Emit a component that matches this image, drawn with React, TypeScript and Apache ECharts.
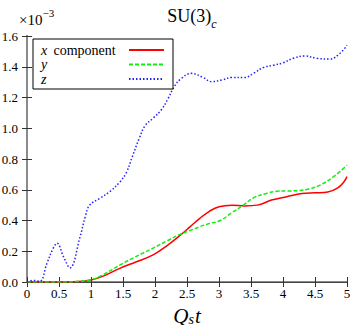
import React, { useEffect, useRef } from "react";
import * as echarts from "echarts";

const FONT = "Liberation Serif";

const tZ = [0, 0.1, 0.2, 0.31, 0.41, 0.47, 0.57, 0.67, 0.83, 0.91, 0.98, 1.14, 1.3, 1.45, 1.55, 1.65, 1.75, 1.85, 1.97, 2.1, 2.2, 2.3, 2.4, 2.57, 2.75, 2.89, 3.05, 3.2, 3.4, 3.55, 3.7, 3.85, 4.0, 4.16, 4.34, 4.53, 4.73, 4.89, 5.0];
const zVals = [0, 0.01, 0.005, 0.12, 0.22, 0.252, 0.165, 0.092, 0.295, 0.425, 0.5, 0.545, 0.59, 0.65, 0.71, 0.82, 0.93, 1.02, 1.065, 1.12, 1.19, 1.27, 1.32, 1.357, 1.33, 1.303, 1.315, 1.33, 1.33, 1.36, 1.396, 1.41, 1.425, 1.455, 1.47, 1.455, 1.45, 1.487, 1.54];

const tX = [0, 0.5, 0.8, 1.0, 1.2, 1.45, 1.7, 1.97, 2.2, 2.4, 2.55, 2.7, 2.85, 3.0, 3.2, 3.4, 3.6, 3.82, 4.06, 4.3, 4.5, 4.7, 4.85, 4.95, 5.0];
const xVals = [0, 0, 0.003, 0.013, 0.04, 0.089, 0.13, 0.176, 0.24, 0.306, 0.36, 0.414, 0.46, 0.49, 0.5, 0.495, 0.5, 0.533, 0.555, 0.575, 0.58, 0.585, 0.61, 0.65, 0.685];

const tY = [0, 0.5, 0.75, 1.0, 1.2, 1.45, 1.7, 1.97, 2.2, 2.39, 2.55, 2.7, 2.85, 3.02, 3.2, 3.38, 3.55, 3.75, 3.9, 4.06, 4.25, 4.4, 4.58, 4.79, 5.0];
const yVals = [0, 0, 0.003, 0.015, 0.05, 0.11, 0.165, 0.22, 0.27, 0.31, 0.335, 0.36, 0.38, 0.4, 0.45, 0.5, 0.55, 0.577, 0.59, 0.592, 0.595, 0.605, 0.63, 0.685, 0.76];

const xMin = 0, xMax = 5, xStep = 0.5;
const yMin = 0, yMax = 1.6, yStep = 0.2;

const pairs = (t: number[], v: number[]) => t.map((tt, i) => [tt, v[i]]);

export default function App() {
  const ref = useRef<HTMLDivElement>(null);
  useEffect(() => {
    if (!ref.current) return;
    const chart = echarts.init(ref.current, null, { renderer: "svg" });
    const tick = { show: true, inside: true, length: 5, lineStyle: { color: "#333", width: 1 } };
    const grayLine = { show: true, lineStyle: { color: "#8a8a8a", width: 2 } };
    const legendText: Record<string, string> = {
      x: "{xi|x}{xn| component}",
      y: "{yi|y}",
      z: "{zi|z}",
    };
    chart.setOption({
      animation: false,
      backgroundColor: "#fff",
      textStyle: { fontFamily: FONT },
      title: {
        text: "{a|SU(3)}{b|c}",
        left: 187,
        top: 0,
        textAlign: "center",
        textStyle: {
          fontWeight: "normal",
          fontFamily: FONT,
          rich: {
            a: { fontFamily: FONT, fontSize: 18, fontWeight: "normal", color: "#000", lineHeight: 22 },
            b: { fontFamily: FONT, fontSize: 12, fontWeight: "normal", fontStyle: "italic", color: "#000", verticalAlign: "bottom", lineHeight: 14, padding: [0, 0, -3, 0] },
          },
        },
      },
      graphic: [
        {
          type: "text",
          left: 19,
          top: 7,
          style: {
            text: "{a|×10}{b|−3}",
            fontFamily: FONT,
            rich: {
              a: { fontFamily: FONT, fontSize: 15, fill: "#000", lineHeight: 20, verticalAlign: "bottom" },
              b: { fontFamily: FONT, fontSize: 11, fill: "#000", lineHeight: 12, verticalAlign: "top" },
            },
          },
        },
      ],
      legend: {
        left: 33,
        top: 39,
        orient: "vertical",
        align: "right",
        selectedMode: false,
        itemWidth: 35,
        itemHeight: 14,
        itemGap: 0.5,
        padding: [4, 8, 3, 8],
        borderColor: "#000",
        borderWidth: 1,
        borderRadius: 0,
        backgroundColor: "#fff",
        itemStyle: { opacity: 0 },
        data: ["x", "y", "z"],
        formatter: (n: string) => legendText[n],
        textStyle: {
          fontFamily: FONT,
          fontSize: 14,
          color: "#000",
          rich: {
            xi: { fontFamily: FONT, fontSize: 14, fontStyle: "italic", width: 9, align: "left" },
            xn: { fontFamily: FONT, fontSize: 14, width: 74, align: "left" },
            yi: { fontFamily: FONT, fontSize: 14, fontStyle: "italic", width: 83, align: "left" },
            zi: { fontFamily: FONT, fontSize: 14, fontStyle: "italic", width: 83, align: "left" },
          },
        },
      },
      grid: { left: 27, right: 7, top: 36, bottom: 43, containLabel: false, outerBoundsMode: "none" },
      xAxis: [
        {
          type: "value",
          min: xMin,
          max: xMax,
          interval: xStep,
          position: "bottom",
          axisLine: grayLine,
          axisTick: tick,
          splitLine: { show: false },
          axisLabel: {
            fontFamily: FONT,
            fontSize: 13,
            color: "#000",
            margin: 5,
            formatter: (v: number) => String(v),
          },
          name: "{q|Q}{s|s}{t|t}",
          nameLocation: "middle",
          nameGap: 17,
          nameTextStyle: {
            lineHeight: 22,
            rich: {
              q: { fontFamily: FONT, fontSize: 21, fontStyle: "italic", color: "#000", lineHeight: 22 },
              s: { fontFamily: FONT, fontSize: 14, fontStyle: "italic", color: "#000", verticalAlign: "bottom", lineHeight: 14, padding: [0, 1, 0, 0] },
              t: { fontFamily: FONT, fontSize: 21, fontStyle: "italic", color: "#000", lineHeight: 22 },
            },
          },
        },
        {
          type: "value",
          min: xMin,
          max: xMax,
          interval: xStep,
          position: "top",
          axisLine: { show: true, lineStyle: { color: "#444", width: 1 } },
          axisTick: tick,
          axisLabel: { show: false },
          splitLine: { show: false },
        },
      ],
      yAxis: [
        {
          type: "value",
          min: yMin,
          max: yMax,
          interval: yStep,
          position: "left",
          axisLine: grayLine,
          axisTick: tick,
          splitLine: { show: false },
          axisLabel: {
            fontFamily: FONT,
            fontSize: 13,
            color: "#000",
            margin: 9,
            formatter: (v: number) => v.toFixed(1),
          },
        },
        {
          type: "value",
          min: yMin,
          max: yMax,
          interval: yStep,
          position: "right",
          axisLine: grayLine,
          axisTick: tick,
          axisLabel: { show: false },
          splitLine: { show: false },
        },
      ],
      series: [
        {
          name: "x",
          type: "line",
          data: pairs(tX, xVals),
          smooth: 0.4,
          symbol: "none",
          lineStyle: { color: "#ff0000", width: 1.5 },
          itemStyle: { color: "#ff0000" },
          emphasis: { disabled: true },
        },
        {
          name: "y",
          type: "line",
          data: pairs(tY, yVals),
          smooth: 0.4,
          symbol: "none",
          lineStyle: { color: "#11ee11", width: 1.5, type: [4, 2] },
          itemStyle: { color: "#11ee11" },
          emphasis: { disabled: true },
        },
        {
          name: "z",
          type: "line",
          data: pairs(tZ, zVals),
          smooth: 0.4,
          symbol: "none",
          lineStyle: { color: "#2222ff", width: 1.5, type: [1.5, 2] },
          itemStyle: { color: "#2222ff" },
          emphasis: { disabled: true },
        },
      ],
    });
    return () => chart.dispose();
  }, []);
  return <div ref={ref} style={{ position: "fixed", left: 0, top: 0, width: 354, height: 325 }} />;
}
